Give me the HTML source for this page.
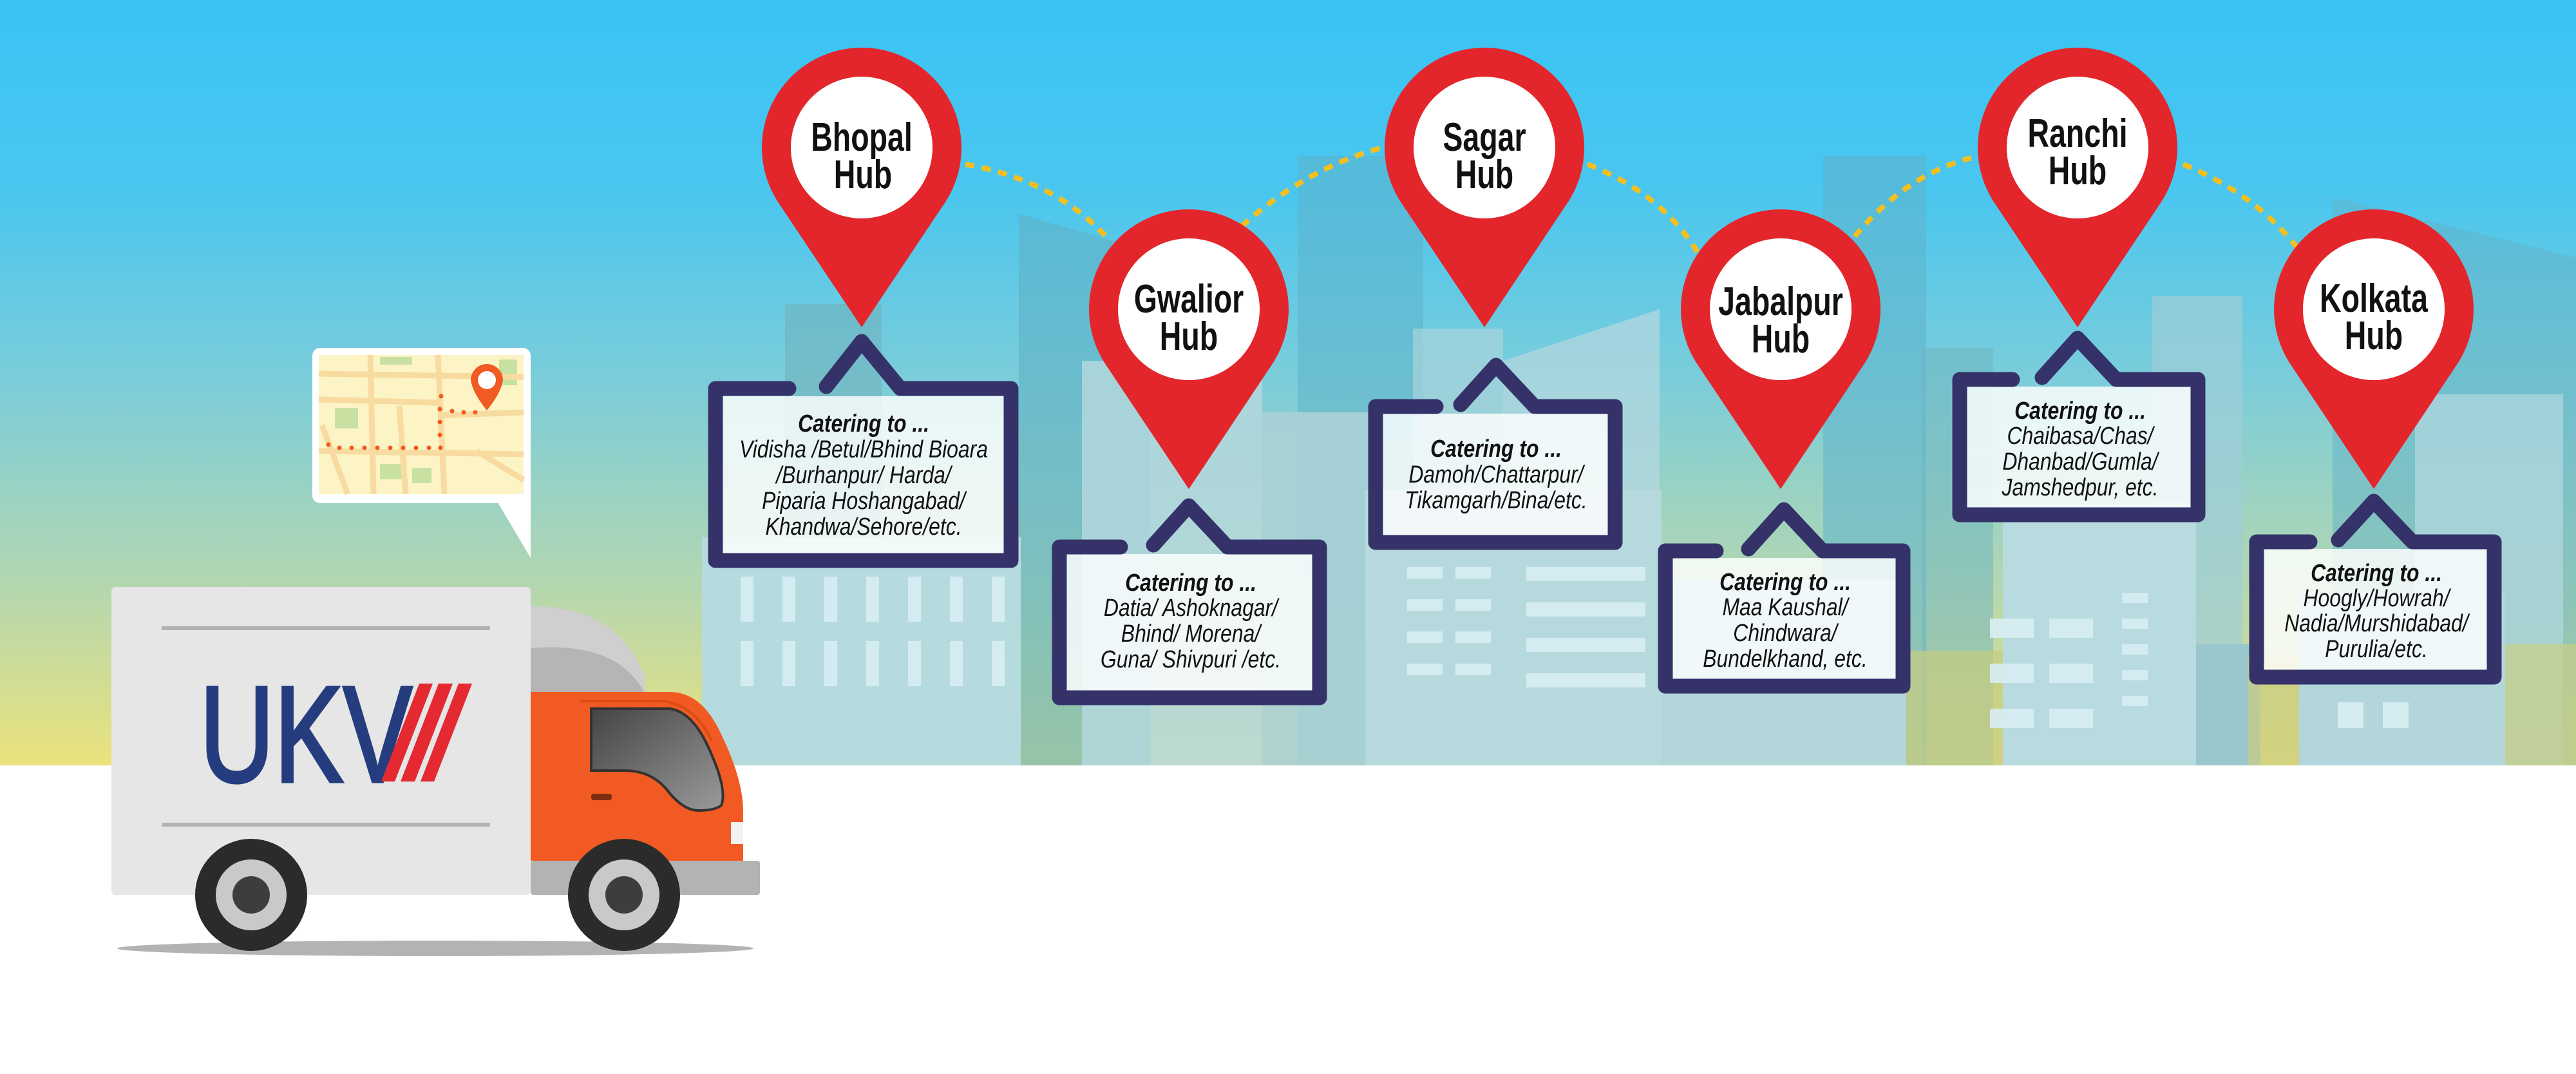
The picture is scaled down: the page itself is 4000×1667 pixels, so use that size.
<!DOCTYPE html>
<html><head><meta charset="utf-8"><style>
html,body{margin:0;padding:0;background:#fff;}
svg{display:block;}
.h{font-family:"Liberation Sans",sans-serif;font-weight:bold;font-size:62px;fill:#111;text-anchor:middle;}
.c{font-family:"Liberation Sans",sans-serif;font-style:italic;font-size:38px;fill:#111;text-anchor:middle;}
.cb{font-weight:bold;}
</style></head><body>
<svg width="4000" height="1667" viewBox="0 0 4000 1667" xmlns="http://www.w3.org/2000/svg">
<defs>
<linearGradient id="sky" x1="0" y1="0" x2="0" y2="1">
<stop offset="0" stop-color="#39c4f4"/>
<stop offset="0.25" stop-color="#4ac6ef"/>
<stop offset="0.5" stop-color="#7ccdd9"/>
<stop offset="0.75" stop-color="#b0d6b3"/>
<stop offset="1" stop-color="#ebe27c"/>
</linearGradient>
<linearGradient id="win" x1="0" y1="0" x2="1" y2="1">
<stop offset="0" stop-color="#444"/><stop offset="1" stop-color="#9a9a9a"/>
</linearGradient>
</defs>
<rect x="0" y="0" width="4000" height="1188" fill="url(#sky)"/>
<!-- buildings -->
<g>
<rect x="2015" y="242" width="195" height="946" fill="#5fb3cb" opacity="0.55"/>
<rect x="2831" y="242" width="160" height="946" fill="#5fb3cb" opacity="0.55"/>
<path d="M1582 332 L1786 390 L1786 1188 L1582 1188 Z" fill="#5fb0c4" opacity="0.6"/>
<rect x="1219" y="472" width="150" height="716" fill="#6fb2bd" opacity="0.6"/>
<rect x="2194" y="510" width="140" height="678" fill="#a8d3dc" opacity="0.7"/>
<path d="M2334 560 L2577 480 L2577 1188 L2334 1188 Z" fill="#b3d7df" opacity="0.75"/>
<rect x="2985" y="540" width="110" height="648" fill="#6db4c0" opacity="0.5"/>
<rect x="3342" y="459" width="140" height="729" fill="#9fcdd7" opacity="0.7"/>
<path d="M3622 306 L4000 400 L4000 1188 L3622 1188 Z" fill="#63b2c6" opacity="0.5"/>
<rect x="3750" y="612" width="230" height="576" fill="#b0d7de" opacity="0.75"/>
<rect x="1090" y="834" width="495" height="354" fill="#b6dbdf"/>
<rect x="1680" y="560" width="280" height="628" fill="#b3d7dd" opacity="0.85"/>
<rect x="1960" y="640" width="180" height="548" fill="#a9d0d6" opacity="0.9"/>
<rect x="2120" y="760" width="460" height="428" fill="#b6d9de"/>
<rect x="2580" y="900" width="380" height="288" fill="#b3d6db"/>
<rect x="2960" y="1010" width="150" height="178" fill="#c6cc82" opacity="0.7"/>
<rect x="3110" y="780" width="300" height="408" fill="#b8dbdf"/>
<rect x="3410" y="1000" width="100" height="188" fill="#9ac6cd"/>
<rect x="3490" y="1020" width="80" height="168" fill="#c9cc80" opacity="0.7"/>
<rect x="3570" y="920" width="320" height="268" fill="#b2d6db"/>
<rect x="3890" y="1000" width="110" height="188" fill="#c9cf85" opacity="0.7"/>
<g fill="#d8eef3" opacity="0.9">
<rect x="1150" y="895" width="20" height="70"/><rect x="1215" y="895" width="20" height="70"/><rect x="1280" y="895" width="20" height="70"/><rect x="1345" y="895" width="20" height="70"/><rect x="1410" y="895" width="20" height="70"/><rect x="1475" y="895" width="20" height="70"/><rect x="1540" y="895" width="20" height="70"/>
<rect x="1150" y="995" width="20" height="70"/><rect x="1215" y="995" width="20" height="70"/><rect x="1280" y="995" width="20" height="70"/><rect x="1345" y="995" width="20" height="70"/><rect x="1410" y="995" width="20" height="70"/><rect x="1475" y="995" width="20" height="70"/><rect x="1540" y="995" width="20" height="70"/>
<rect x="2185" y="880" width="55" height="18"/><rect x="2260" y="880" width="55" height="18"/><rect x="2185" y="930" width="55" height="18"/><rect x="2260" y="930" width="55" height="18"/><rect x="2185" y="980" width="55" height="18"/><rect x="2260" y="980" width="55" height="18"/><rect x="2185" y="1030" width="55" height="18"/><rect x="2260" y="1030" width="55" height="18"/>
<rect x="2370" y="880" width="185" height="22"/><rect x="2370" y="935" width="185" height="22"/><rect x="2370" y="990" width="185" height="22"/><rect x="2370" y="1045" width="185" height="22"/>
<rect x="3090" y="960" width="68" height="30"/><rect x="3182" y="960" width="68" height="30"/><rect x="3090" y="1030" width="68" height="30"/><rect x="3182" y="1030" width="68" height="30"/><rect x="3090" y="1100" width="68" height="30"/><rect x="3182" y="1100" width="68" height="30"/>
<rect x="3295" y="920" width="40" height="16"/><rect x="3295" y="960" width="40" height="16"/><rect x="3295" y="1000" width="40" height="16"/><rect x="3295" y="1040" width="40" height="16"/><rect x="3295" y="1080" width="40" height="16"/>
<rect x="3630" y="1090" width="40" height="40"/><rect x="3700" y="1090" width="40" height="40"/>
</g>
</g>
<!-- dotted arcs -->
<g fill="none" stroke="#f6bf1d" stroke-width="8" stroke-dasharray="14 12">
<path d="M1499 255 Q1640 280 1722 372"/>
<path d="M1928 351 Q2030 260 2147 229"/>
<path d="M2465 255 Q2580 300 2637 393"/>
<path d="M2880 367 Q2960 270 3065 244"/>
<path d="M3390 255 Q3500 300 3566 383"/>
</g>
<!-- boxes -->
<g>
<g fill="#ffffff" opacity="0.82">
<rect x="1121" y="615" width="440" height="245"/>
<rect x="1655" y="860" width="385" height="213"/>
<rect x="2146" y="642" width="353" height="190"/>
<rect x="2596" y="866" width="350" height="189"/>
<rect x="3053" y="600" width="351" height="189"/>
<rect x="3514" y="852" width="350" height="189"/>
</g>
<g fill="none" stroke="#35326a" stroke-width="23" stroke-linecap="round" stroke-linejoin="round">
<path d="M1225 603 L1111 603 L1111 870 L1570 870 L1570 603 L1398 603 L1338 530 L1283 600"/>
<path d="M1740 849 L1645 849 L1645 1083 L2049 1083 L2049 849 L1906 849 L1846 785 L1791 846"/>
<path d="M2230 631 L2136 631 L2136 842 L2508 842 L2508 631 L2383 631 L2323 567 L2268 628"/>
<path d="M2665 855 L2586 855 L2586 1065 L2955 1065 L2955 855 L2830 855 L2770 791 L2715 852"/>
<path d="M3125 589 L3043 589 L3043 799 L3413 799 L3413 589 L3286 589 L3226 525 L3171 586"/>
<path d="M3587 841 L3504 841 L3504 1051 L3873 1051 L3873 841 L3746 841 L3686 778 L3631 838"/>
</g>
</g>
<!-- box text -->
<g>
<text transform="translate(1341 670) scale(0.84 1)" class="c cb">Catering to ...</text>
<text transform="translate(1341 710) scale(0.84 1)" class="c">Vidisha /Betul/Bhind Bioara</text>
<text transform="translate(1341 750) scale(0.84 1)" class="c">/Burhanpur/ Harda/</text>
<text transform="translate(1341 790) scale(0.84 1)" class="c">Piparia Hoshangabad/</text>
<text transform="translate(1341 830) scale(0.84 1)" class="c">Khandwa/Sehore/etc.</text>

<text transform="translate(1849 917) scale(0.84 1)" class="c cb">Catering to ...</text>
<text transform="translate(1849 956) scale(0.84 1)" class="c">Datia/ Ashoknagar/</text>
<text transform="translate(1849 996) scale(0.84 1)" class="c">Bhind/ Morena/</text>
<text transform="translate(1849 1036) scale(0.84 1)" class="c">Guna/ Shivpuri /etc.</text>

<text transform="translate(2323 709) scale(0.84 1)" class="c cb">Catering to ...</text>
<text transform="translate(2323 749) scale(0.84 1)" class="c">Damoh/Chattarpur/</text>
<text transform="translate(2323 789) scale(0.84 1)" class="c">Tikamgarh/Bina/etc.</text>

<text transform="translate(2772 916) scale(0.84 1)" class="c cb">Catering to ...</text>
<text transform="translate(2772 955) scale(0.84 1)" class="c">Maa Kaushal/</text>
<text transform="translate(2772 995) scale(0.84 1)" class="c">Chindwara/</text>
<text transform="translate(2772 1035) scale(0.84 1)" class="c">Bundelkhand, etc.</text>

<text transform="translate(3230 650) scale(0.84 1)" class="c cb">Catering to ...</text>
<text transform="translate(3230 689) scale(0.84 1)" class="c">Chaibasa/Chas/</text>
<text transform="translate(3230 729) scale(0.84 1)" class="c">Dhanbad/Gumla/</text>
<text transform="translate(3230 769) scale(0.84 1)" class="c">Jamshedpur, etc.</text>

<text transform="translate(3690 902) scale(0.84 1)" class="c cb">Catering to ...</text>
<text transform="translate(3690 941) scale(0.84 1)" class="c">Hoogly/Howrah/</text>
<text transform="translate(3690 980) scale(0.84 1)" class="c">Nadia/Murshidabad/</text>
<text transform="translate(3690 1020) scale(0.84 1)" class="c">Purulia/etc.</text>
</g>
<!-- pins -->
<g fill="#e3262b">
<path d="M1209.5 315.7 A155 155 0 1 1 1466.5 315.7 L1338 508 Z"/>
<path d="M1717.5 566.7 A155 155 0 1 1 1974.5 566.7 L1846 759 Z"/>
<path d="M2176.5 315.7 A155 155 0 1 1 2433.5 315.7 L2305 508 Z"/>
<path d="M2636.5 566.7 A155 155 0 1 1 2893.5 566.7 L2765 759 Z"/>
<path d="M3097.5 315.7 A155 155 0 1 1 3354.5 315.7 L3226 508 Z"/>
<path d="M3557.5 566.7 A155 155 0 1 1 3814.5 566.7 L3686 759 Z"/>
</g>
<g fill="#fff">
<circle cx="1338" cy="229" r="110"/><circle cx="1846" cy="480" r="110"/>
<circle cx="2305" cy="229" r="110"/><circle cx="2765" cy="480" r="110"/>
<circle cx="3226" cy="229" r="110"/><circle cx="3686" cy="480" r="110"/>
</g>
<g>
<text transform="translate(1338 234) scale(0.75 1)" class="h">Bhopal</text><text transform="translate(1340 292) scale(0.75 1)" class="h">Hub</text>
<text transform="translate(1846 485) scale(0.75 1)" class="h">Gwalior</text><text transform="translate(1846 543) scale(0.75 1)" class="h">Hub</text>
<text transform="translate(2305 234) scale(0.75 1)" class="h">Sagar</text><text transform="translate(2305 292) scale(0.75 1)" class="h">Hub</text>
<text transform="translate(2765 489) scale(0.75 1)" class="h">Jabalpur</text><text transform="translate(2765 547) scale(0.75 1)" class="h">Hub</text>
<text transform="translate(3226 228) scale(0.75 1)" class="h">Ranchi</text><text transform="translate(3226 286) scale(0.75 1)" class="h">Hub</text>
<text transform="translate(3686 484) scale(0.75 1)" class="h">Kolkata</text><text transform="translate(3686 542) scale(0.75 1)" class="h">Hub</text>
</g>
<!-- map bubble -->
<rect x="485" y="540" width="339" height="241" rx="12" fill="#fff"/>
<path d="M770 775 L824 866 L824 770 Z" fill="#fff"/>
<rect x="495" y="551" width="318" height="216" fill="#fcf4c4"/>
<g fill="#c8e1a2">
<rect x="590" y="554" width="50" height="12"/><rect x="520" y="633" width="36" height="32"/><rect x="590" y="720" width="38" height="24"/><rect x="640" y="726" width="30" height="24"/><rect x="775" y="558" width="28" height="40"/>
</g>
<g stroke="#f8dba0" stroke-width="9" fill="none">
<path d="M495 580 L813 585"/><path d="M495 620 L680 625"/><path d="M495 700 L813 705"/><path d="M680 645 L813 640"/><path d="M575 551 L580 767"/><path d="M620 630 L630 767"/><path d="M680 551 L690 767"/><path d="M740 700 L813 745"/><path d="M500 660 L540 767"/>
</g>
<g fill="#f15a22">
<circle cx="510" cy="690" r="3.5"/><circle cx="527" cy="695" r="3.5"/><circle cx="546" cy="695" r="3.5"/><circle cx="566" cy="695" r="3.5"/><circle cx="586" cy="695" r="3.5"/><circle cx="606" cy="695" r="3.5"/><circle cx="626" cy="695" r="3.5"/><circle cx="646" cy="695" r="3.5"/><circle cx="666" cy="695" r="3.5"/><circle cx="684" cy="695" r="3.5"/>
<circle cx="683" cy="675" r="3.5"/><circle cx="683" cy="655" r="3.5"/><circle cx="683" cy="635" r="3.5"/><circle cx="685" cy="615" r="3.5"/>
<circle cx="702" cy="638" r="3.5"/><circle cx="720" cy="640" r="3.5"/><circle cx="738" cy="640" r="3.5"/>
<path d="M731 590 A25 25 0 1 1 781 590 Q778 610 756 637 Q734 610 731 590 Z"/>
</g>
<circle cx="756" cy="590" r="14" fill="#fff"/>
<!-- truck -->
<ellipse cx="676" cy="1472" rx="494" ry="12" fill="#b3b3b3"/>
<rect x="173" y="911" width="651" height="478" rx="6" fill="#e6e6e6"/>
<rect x="251" y="972" width="510" height="6" fill="#b3b3b3"/>
<rect x="251" y="1277" width="510" height="6" fill="#b3b3b3"/>
<text x="310" y="1213" font-family="Liberation Sans, sans-serif" font-size="212" fill="#253d7f" stroke="#253d7f" stroke-width="5" textLength="330" lengthAdjust="spacingAndGlyphs">UKV</text>
<g fill="#e42a30">
<polygon points="651,1061 672,1061 613,1213 592,1213"/>
<polygon points="681,1061 703,1061 644,1213 622,1213"/>
<polygon points="712,1061 733,1061 674,1213 653,1213"/>
</g>
<path d="M824 941 Q960 941 1001 1050 L1001 1076 L824 1076 Z" fill="#cfcfcf"/>
<path d="M824 1006 Q960 995 1001 1076 L824 1076 Z" fill="#b5b5b5"/>
<path d="M824 1074 L1040 1074 Q1090 1074 1120 1140 Q1154 1210 1154 1260 L1154 1336 L824 1336 Z" fill="#f15a22"/>
<path d="M900 1088 L1030 1088 Q1080 1095 1105 1150" fill="none" stroke="#d94c17" stroke-width="4"/>
<path d="M918 1100 L1040 1100 Q1075 1105 1100 1160 Q1130 1225 1120 1250 Q1110 1258 1085 1258 Q1060 1258 1035 1225 Q1010 1196 970 1196 L918 1196 Z" fill="url(#win)" stroke="#333" stroke-width="4"/>
<rect x="918" y="1232" width="32" height="10" rx="4" fill="#7a2d10"/>
<rect x="1135" y="1276" width="19" height="34" fill="#f2f2f2"/>
<rect x="824" y="1336" width="356" height="53" rx="4" fill="#b3b3b3"/>
<g>
<circle cx="390" cy="1389" r="87" fill="#2b2b2b"/>
<circle cx="390" cy="1389" r="55" fill="#c9c9c9"/>
<circle cx="390" cy="1389" r="29" fill="#3d3d3d"/>
<circle cx="969" cy="1389" r="87" fill="#2b2b2b"/>
<circle cx="969" cy="1389" r="55" fill="#c9c9c9"/>
<circle cx="969" cy="1389" r="29" fill="#3d3d3d"/>
</g>
</svg>
</body></html>
